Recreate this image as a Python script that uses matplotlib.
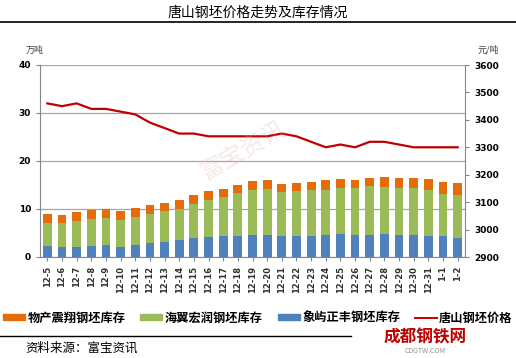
import matplotlib.pyplot as plt
import numpy as np
from matplotlib.patches import Patch
from matplotlib.lines import Line2D

plt.rcParams['font.family'] = ['Noto Sans CJK SC', 'DejaVu Sans']

dates = ["12-5", "12-6", "12-7", "12-8", "12-9", "12-10", "12-11", "12-12", "12-13",
         "12-14", "12-15", "12-16", "12-17", "12-18", "12-19", "12-20", "12-21", "12-22",
         "12-23", "12-24", "12-25", "12-26", "12-27", "12-28", "12-29", "12-30", "12-31",
         "1-1", "1-2"]

# 象屿正丰 (bottom)
xiangyu = [2.3, 2.15, 2.15, 2.3, 2.4, 2.15, 2.4, 2.85, 3.1, 3.6, 3.9, 4.15, 4.3, 4.3,
           4.55, 4.65, 4.4, 4.4, 4.4, 4.5, 4.8, 4.65, 4.65, 4.8, 4.65, 4.65, 4.4, 4.4, 3.95]
# 海翼宏润 (middle)
haiyi = [4.85, 4.85, 5.45, 5.7, 5.7, 5.55, 6.0, 6.1, 6.4, 6.45, 7.1, 7.75, 8.1, 9.0,
         9.5, 9.55, 9.1, 9.35, 9.5, 9.5, 9.6, 9.65, 10.05, 9.8, 9.75, 9.65, 9.6, 8.8, 8.9]
# 物产震翔 (top)
wuchan = [1.8, 1.8, 1.8, 1.7, 1.8, 1.8, 1.9, 1.8, 1.8, 1.85, 1.85, 1.9, 1.8, 1.8,
          1.8, 1.8, 1.8, 1.75, 1.8, 2.0, 1.85, 1.8, 1.8, 2.1, 2.1, 2.2, 2.25, 2.5, 2.55]
# 唐山钢坯价格 (right axis)
price = [3460, 3450, 3460, 3440, 3440, 3430, 3420, 3390, 3370, 3350, 3350, 3340, 3340, 3340,
         3340, 3340, 3350, 3340, 3320, 3300, 3310, 3300, 3320, 3320, 3310, 3300, 3300, 3300, 3300]

c_orange = "#E46C0A"
c_green = "#9BBB59"
c_blue = "#4F81BD"
c_red = "#C00000"

fig = plt.figure(figsize=(5.16, 3.58), dpi=100)
ax = fig.add_axes([40/516, 1 - 257/358, 425/516, 192/358])
x = np.arange(len(dates))
w = 0.6

ax.bar(x, xiangyu, w, color=c_blue, zorder=2)
ax.bar(x, haiyi, w, bottom=xiangyu, color=c_green, zorder=2)
bottom2 = np.array(xiangyu) + np.array(haiyi)
ax.bar(x, wuchan, w, bottom=bottom2, color=c_orange, zorder=2)

ax.set_xlim(-0.5, len(dates) - 0.5)
ax.set_ylim(0, 40)
ax.set_yticks([0, 10, 20, 30, 40])
ax.yaxis.grid(True, color="#A6A6A6", linewidth=0.9, zorder=0)
ax.set_axisbelow(True)
ax.set_xticks(x)
ax.set_xticklabels(dates, rotation=90, fontsize=6, fontweight="bold", family="DejaVu Sans",
                   color="#303030")
ax.tick_params(axis="y", labelsize=6.5, length=3, color="#868686")
ax.tick_params(axis="x", length=3, color="#868686")
for lab in ax.get_yticklabels():
    lab.set_fontweight("bold")
    lab.set_family("DejaVu Sans")
for s in ["top", "right"]:
    ax.spines[s].set_visible(False)
ax.spines["left"].set_color("#868686")
ax.spines["bottom"].set_color("#868686")

ax2 = ax.twinx()
ax2.plot(x, price, color=c_red, linewidth=1.6, zorder=3)
ax2.set_ylim(2900, 3600)
ax2.set_yticks(range(2900, 3601, 100))
ax2.tick_params(axis="y", labelsize=6.5, length=3, color="#868686")
for lab in ax2.get_yticklabels():
    lab.set_fontweight("bold")
    lab.set_family("DejaVu Sans")
for s in ["top", "left", "bottom"]:
    ax2.spines[s].set_visible(False)
ax2.spines["right"].set_color("#868686")

# watermark
fig.text(0.47, 0.58, "富宝资讯", fontsize=17, color="#E8B4B4", alpha=0.3, rotation=30,
         ha="center", va="center")

fig.text(0.5, 0.965, "唐山钢坯价格走势及库存情况", ha="center", va="center", fontsize=10)
fig.add_artist(Line2D([0, 1], [1 - 22/358, 1 - 22/358], color="black", linewidth=1.2))
fig.text(35/516, 1 - 50/358, "万吨", ha="center", va="center", fontsize=6.5, color="#404040")
fig.text(488/516, 1 - 50/358, "元/吨", ha="center", va="center", fontsize=6.5, color="#404040")

handles = [Patch(color=c_orange), Patch(color=c_green), Patch(color=c_blue),
           Line2D([0], [0], color=c_red, linewidth=1.4)]
labels = ["物产震翔钢坯库存", "海翼宏润钢坯库存", "象屿正丰钢坯库存", "唐山钢坯价格"]
fig.legend(handles, labels, loc="center", bbox_to_anchor=(0.5, 1 - 318/358), ncol=4,
           frameon=False, handlelength=1.8, handleheight=0.45,
           columnspacing=1.2, handletextpad=0.2, prop={"weight": "bold", "size": 8.8})

fig.add_artist(Line2D([0, 0.68], [1 - 336/358, 1 - 336/358], color="black", linewidth=1.0))
fig.text(25/516, 1 - 348/358, "资料来源：富宝资讯", ha="left", va="center", fontsize=9)
fig.text(425/516, 1 - 337/358, "成都钢铁网", ha="center", va="center", fontsize=12,
         color="#C00000", fontweight="bold")
fig.text(425/516, 1 - 351/358, "CDGTW.COM", ha="center", va="center", fontsize=5,
         color="#909090")

fig.savefig("out.png", dpi=100)
